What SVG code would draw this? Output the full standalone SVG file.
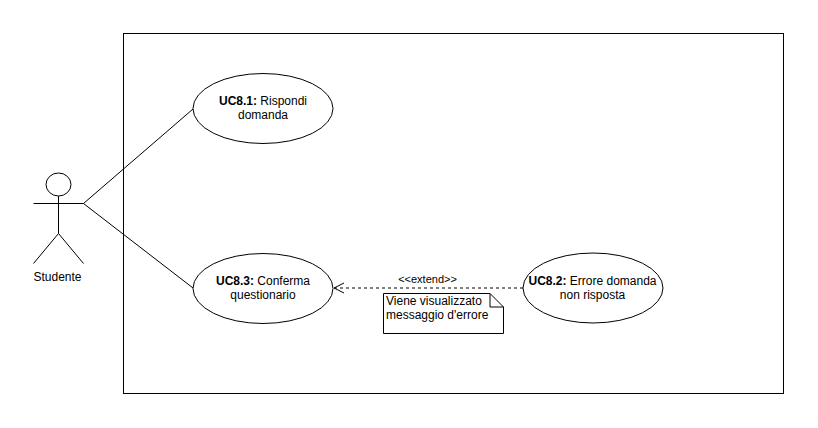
<svg xmlns="http://www.w3.org/2000/svg" width="818" height="428" viewBox="0 0 818 428">
<style>
.s{fill:none;stroke:#000;stroke-width:1}
.n{fill:#fff;stroke:#000;stroke-width:1}
text{font-family:"Liberation Sans",Arial,sans-serif;font-size:12px;fill:#000;text-anchor:middle}
.b{font-weight:bold}
</style>
<rect id="system" x="123.500" y="33.500" width="660" height="360" fill="#fff" stroke="#000"/>
<g id="connectors">
<path class="s" d="M83.500 203.500L193 109"/>
<path class="s" d="M83.500 203.500L193 288"/>
<path class="s" stroke-dasharray="3 3" d="M523 288H334"/>
<path class="s" d="M344 283L334 288L344 293"/>
</g>
<g id="actor">
<ellipse class="s" cx="58.500" cy="184.500" rx="12.500" ry="11.500"/>
<path class="s" d="M58.500 196V233.500M33.500 203.500H83.500M33.500 263.500L58.500 233.500L83.500 263.500"/>
<text x="57.500" y="281">Studente</text>
</g>
<g id="uc81">
<ellipse class="n" cx="263" cy="108.500" rx="70" ry="35"/>
<text x="263" y="105"><tspan class="b">UC8.1:</tspan> Rispondi</text>
<text x="263" y="119">domanda</text>
</g>
<g id="uc83">
<ellipse class="n" cx="263" cy="288.500" rx="70" ry="35"/>
<text x="263" y="285"><tspan class="b">UC8.3:</tspan> Conferma</text>
<text x="263" y="299">questionario</text>
</g>
<g id="uc82">
<ellipse class="n" cx="593" cy="288" rx="70" ry="35"/>
<text x="592.500" y="285"><tspan class="b">UC8.2:</tspan> Errore domanda</text>
<text x="592.500" y="299">non risposta</text>
</g>
<g id="label">
<text x="427.500" y="283" style="font-size:11px">&lt;&lt;extend&gt;&gt;</text>
</g>
<g id="note">
<path class="n" d="M383.500 293.500H490L503.500 307V333.500H383.500Z"/>
<path class="s" d="M490 293.500V307H503.500"/>
<text x="386" y="305" style="text-anchor:start">Viene visualizzato</text>
<text x="386" y="319" style="text-anchor:start">messaggio d'errore</text>
</g>
</svg>
